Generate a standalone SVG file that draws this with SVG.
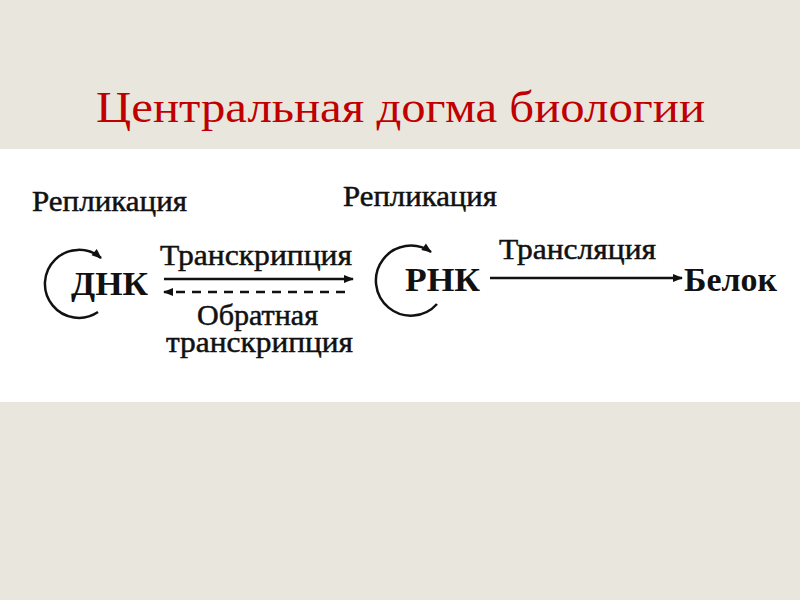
<svg xmlns="http://www.w3.org/2000/svg" width="800" height="600" viewBox="0 0 800 600">
<defs>
<style>
.t{font-family:"Liberation Serif","Times New Roman",serif;fill:#111}
.lbl{font-size:29px;stroke:#111;stroke-width:0.5}
.big{font-size:34px;font-weight:bold}
.ln{stroke:#111;stroke-width:2.5;fill:none}
</style>
<marker id="ah2" viewBox="0 0 10 10" refX="9" refY="5" markerWidth="14" markerHeight="10" orient="auto-start-reverse" markerUnits="userSpaceOnUse">
<path d="M0,1 L10,5 L0,9 z" fill="#111"/>
</marker>
</defs>
<rect width="800" height="600" fill="#E9E7DD"/>
<rect x="0" y="149" width="800" height="253" fill="#FFFFFF"/>
<text id="title" x="96" y="122" textLength="609" lengthAdjust="spacingAndGlyphs" font-family="Liberation Serif,Times New Roman,serif" font-size="45" fill="#C00000">Центральная догма биологии</text>
<g id="dna">
<text class="t lbl" x="32" y="211" textLength="155" lengthAdjust="spacingAndGlyphs">Репликация</text>
<text class="t big" x="71" y="295" textLength="77" lengthAdjust="spacingAndGlyphs">ДНК</text>
</g>
<g id="rna">
<text class="t lbl" x="343" y="206" textLength="154" lengthAdjust="spacingAndGlyphs">Репликация</text>
<text class="t big" x="405" y="291" textLength="75" lengthAdjust="spacingAndGlyphs">РНК</text>
</g>
<g id="protein">
<text class="t big" x="684" y="291" textLength="93" lengthAdjust="spacingAndGlyphs">Белок</text>
</g>
<g id="connectors">
<path class="ln" d="M98,312 A34,34 0 1 1 101,258" marker-end="url(#ah2)"/>
<path class="ln" d="M437,304 A35,35 0 1 1 431,252" marker-end="url(#ah2)"/>
<line class="ln" x1="164" y1="279" x2="353" y2="279" marker-end="url(#ah2)"/>
<line class="ln" x1="345" y1="292" x2="164" y2="292" stroke-dasharray="9,7" marker-end="url(#ah2)"/>
<line class="ln" x1="490" y1="278" x2="682" y2="278" marker-end="url(#ah2)"/>
<text class="t lbl" x="160" y="265" textLength="192" lengthAdjust="spacingAndGlyphs">Транскрипция</text>
<text class="t lbl" x="197" y="325" textLength="121" lengthAdjust="spacingAndGlyphs">Обратная</text>
<text class="t lbl" x="166" y="352" textLength="187" lengthAdjust="spacingAndGlyphs">транскрипция</text>
<text class="t lbl" x="499" y="259" textLength="157" lengthAdjust="spacingAndGlyphs">Трансляция</text>
</g>
</svg>
